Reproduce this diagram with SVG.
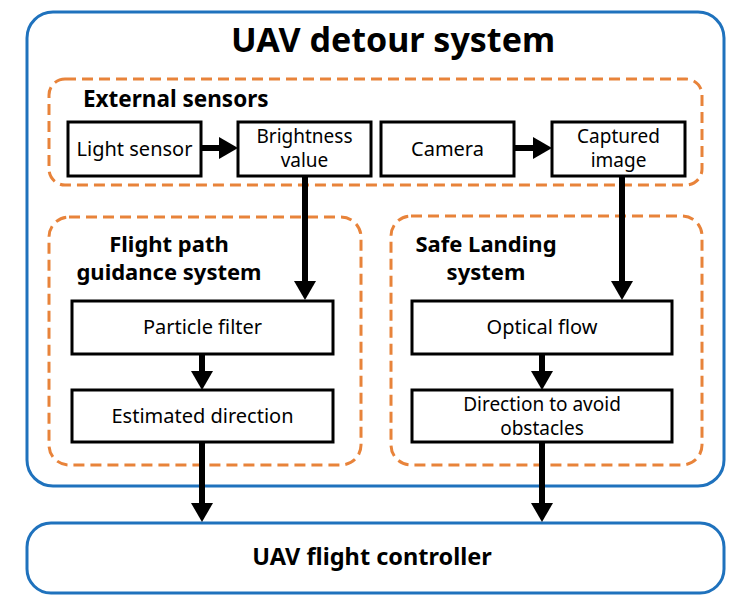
<svg xmlns="http://www.w3.org/2000/svg" width="743" height="608" viewBox="0 0 743 608">
<defs>
<marker id="ah" markerUnits="userSpaceOnUse" markerWidth="19" markerHeight="22" refX="0" refY="11" orient="auto" viewBox="0 0 19 22">
<path d="M0,0 L19,11 L0,22 z" fill="#000"/>
</marker>
<style>
.blue{fill:#fff;stroke:#1f72bd;stroke-width:3}
.dash{fill:none;stroke:#e8833a;stroke-width:3;stroke-dasharray:11,6}
.box{fill:#fff;stroke:#000;stroke-width:3}
.t{font-family:"Noto Sans","Open Sans",sans-serif;font-size:19px;fill:#000;text-anchor:middle}
.t1{font-size:20px}
.b{font-family:"Noto Sans","Open Sans",sans-serif;font-weight:bold;fill:#000}
.c{fill:none;stroke:#000;stroke-width:6}
</style>
</defs>
<rect width="743" height="608" fill="#fff"/>
<g id="uav-detour-system">
<rect class="blue" x="27" y="12" width="697" height="474" rx="26"/>
<text class="b" x="393" y="52" font-size="34" text-anchor="middle">UAV detour system</text>
</g>
<g id="external-sensors">
<rect class="dash" x="49" y="79" width="653" height="106" rx="16"/>
<text class="b" x="83" y="107" font-size="22.5">External sensors</text>
</g>
<g id="flight-path-guidance">
<rect class="dash" x="49" y="217" width="312" height="248" rx="20"/>
<text class="b" x="169" y="252" font-size="22" text-anchor="middle">Flight path</text>
<text class="b" x="169" y="280" font-size="22" text-anchor="middle">guidance system</text>
</g>
<g id="safe-landing">
<rect class="dash" x="391" y="216" width="311" height="249" rx="20"/>
<text class="b" x="486" y="252" font-size="22" text-anchor="middle">Safe Landing</text>
<text class="b" x="486" y="280" font-size="22" text-anchor="middle">system</text>
</g>
<g id="light-sensor">
<rect class="box" x="68" y="122" width="133" height="54"/>
<text class="t t1" x="134.5" y="156">Light sensor</text>
</g>
<g id="brightness-value">
<rect class="box" x="238" y="122" width="133" height="54"/>
<text class="t" x="304.5" y="143">Brightness</text>
<text class="t" x="304.5" y="167">value</text>
</g>
<g id="camera">
<rect class="box" x="381" y="122" width="133" height="54"/>
<text class="t t1" x="447.5" y="156">Camera</text>
</g>
<g id="captured-image">
<rect class="box" x="552" y="122" width="133" height="54"/>
<text class="t" x="618.5" y="143">Captured</text>
<text class="t" x="618.5" y="167">image</text>
</g>
<g id="particle-filter">
<rect class="box" x="72" y="301" width="261" height="53"/>
<text class="t t1" x="202.5" y="334">Particle filter</text>
</g>
<g id="estimated-direction">
<rect class="box" x="72" y="390" width="261" height="52"/>
<text class="t t1" x="202.5" y="423">Estimated direction</text>
</g>
<g id="optical-flow">
<rect class="box" x="412" y="301" width="260" height="53"/>
<text class="t t1" x="542" y="334">Optical flow</text>
</g>
<g id="direction-avoid">
<rect class="box" x="412" y="390" width="260" height="52"/>
<text class="t" x="542" y="411">Direction to avoid</text>
<text class="t" x="542" y="435">obstacles</text>
</g>
<g id="flight-controller">
<rect class="blue" x="27" y="523" width="697" height="70" rx="24"/>
<text class="b" x="372" y="565" font-size="23.5" text-anchor="middle">UAV flight controller</text>
</g>
<g id="connectors">
<line class="c" x1="201" y1="148" x2="219" y2="148" marker-end="url(#ah)"/>
<line class="c" x1="514" y1="148" x2="533" y2="148" marker-end="url(#ah)"/>
<line class="c" x1="305" y1="176" x2="305" y2="281" marker-end="url(#ah)"/>
<line class="c" x1="622" y1="176" x2="622" y2="281" marker-end="url(#ah)"/>
<line class="c" x1="202" y1="354" x2="202" y2="371" marker-end="url(#ah)"/>
<line class="c" x1="542" y1="354" x2="542" y2="371" marker-end="url(#ah)"/>
<line class="c" x1="202" y1="442" x2="202" y2="503" marker-end="url(#ah)"/>
<line class="c" x1="542" y1="442" x2="542" y2="503" marker-end="url(#ah)"/>
</g>
</svg>
